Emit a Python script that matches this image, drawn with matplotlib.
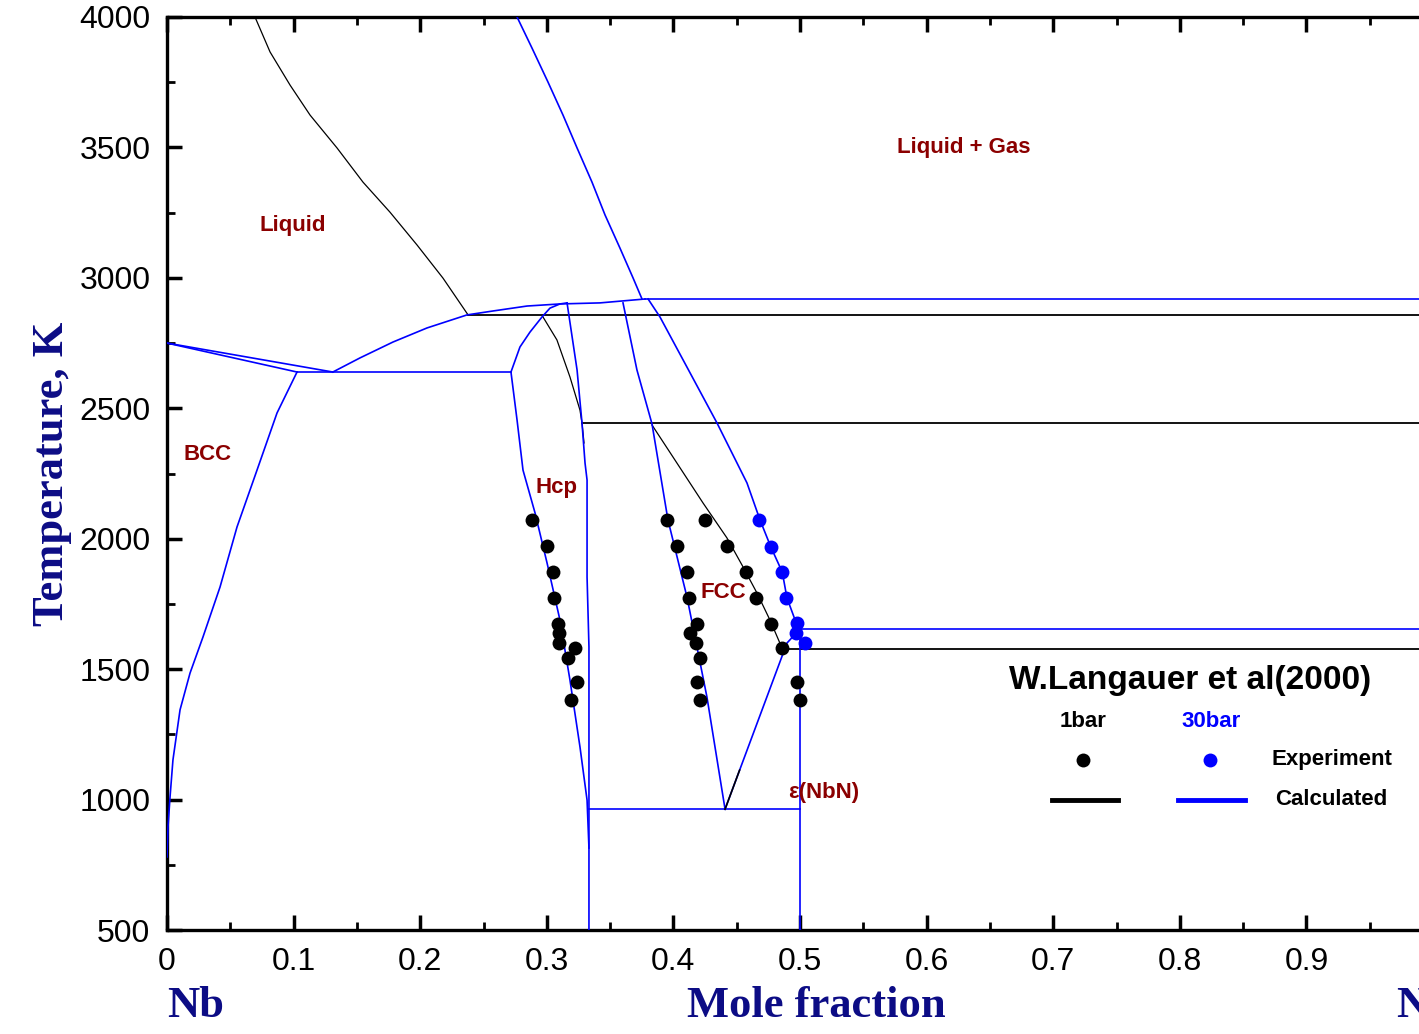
import numpy as np
import matplotlib.pyplot as plt
from matplotlib.ticker import MultipleLocator

# ---- calculated, 1 bar (black) ----
liq_1bar_x = [0.0695, 0.0814, 0.0972, 0.1130, 0.1343, 0.1548, 0.1761, 0.1975, 0.2180, 0.2378]
liq_1bar_T = [4000, 3866, 3739, 3624, 3498, 3367, 3252, 3126, 2999, 2858]
hcp_1bar_x = [0.297, 0.308, 0.3183, 0.3262, 0.3278, 0.3294]
hcp_1bar_T = [2850, 2762, 2620, 2493, 2444, 2367]
fcc_1bar_x = [0.3831, 0.3997, 0.4234, 0.4423, 0.455, 0.466, 0.4763, 0.4858]
fcc_1bar_T = [2436, 2313, 2137, 2003, 1892, 1792, 1688, 1581]
eps_1bar_x = [0.4408, 0.4523]
eps_1bar_T = [963, 1113]
iso_1bar_T = [2858, 2444, 1577]
iso_1bar_x0 = [0.2378, 0.3278, 0.4858]

# ---- calculated, 30 bar (blue) ----
gas_up_x = [0.2765, 0.2883, 0.3009, 0.3128, 0.3239, 0.3357, 0.346, 0.3578, 0.3681, 0.3752]
gas_up_T = [4000, 3881, 3751, 3624, 3498, 3367, 3241, 3114, 3000, 2919]
gas_low_x = [0.380, 0.3894, 0.4107, 0.4344, 0.4581, 0.4684, 0.477, 0.486, 0.4897, 0.4976, 0.5]
gas_low_T = [2919, 2850, 2658, 2444, 2214, 2072, 1968, 1872, 1773, 1669, 1654]
bcc_liq_x = [0.0, 0.131]
bcc_liq_T = [2750, 2639]
bcc_sol_x = [0.0, 0.1027]
bcc_sol_T = [2750, 2639]
bcc_solvus_x = [0.1027, 0.0869, 0.0711, 0.0553, 0.0419, 0.0284, 0.0182, 0.0103, 0.0047, 0.0024, 0.0008, 0.0]
bcc_solvus_T = [2639, 2482, 2263, 2045, 1815, 1623, 1485, 1344, 1152, 1010, 895, 780]
liquidus_x = [0.131, 0.1524, 0.1785, 0.2054, 0.2370, 0.2575, 0.2844, 0.3104, 0.342, 0.3776]
liquidus_T = [2639, 2693, 2754, 2808, 2858, 2873, 2892, 2900, 2904, 2919]
hcp_top_x = [0.2717, 0.2788, 0.2867, 0.2962, 0.3025, 0.3104, 0.316]
hcp_top_T = [2639, 2735, 2792, 2850, 2884, 2900, 2904]
hcp_left_x = [0.2717, 0.2765, 0.2812, 0.2907, 0.3002, 0.3104, 0.3183, 0.3262, 0.3318, 0.3333]
hcp_left_T = [2639, 2455, 2263, 2099, 1907, 1688, 1458, 1202, 998, 814]
hcp_right_x = [0.316, 0.3239, 0.3278, 0.3302, 0.3318, 0.3318, 0.3333, 0.3333]
hcp_right_T = [2904, 2647, 2444, 2290, 2225, 1853, 1585, 500]
fcc_left_x = [0.3602, 0.3712, 0.3831, 0.3957, 0.4107, 0.4265, 0.4408]
fcc_left_T = [2904, 2647, 2440, 2072, 1777, 1393, 963]
fcc_right_x = [0.4408, 0.4897, 0.5]
fcc_right_T = [963, 1600, 1654]
nbn_x = [0.5, 0.5]
nbn_T = [1654, 500]
peritectic_T = 2639
peritectic_x = [0.1027, 0.2717]
eutectoid_T = 963
eutectoid_x = [0.3333, 0.5]
iso_30bar_T = [2919, 1654]
iso_30bar_x0 = [0.3776, 0.5]

# ---- experiment (W.Langauer et al 2000) ----
exp_1bar_x = [0.288, 0.300, 0.305, 0.306, 0.309, 0.310, 0.310, 0.322, 0.317, 0.324, 0.319,
              0.395, 0.403, 0.411, 0.412, 0.419, 0.413, 0.418, 0.421, 0.419, 0.421,
              0.425, 0.442, 0.457, 0.465, 0.477, 0.486,
              0.498, 0.500]
exp_1bar_T = [2073, 1973, 1873, 1773, 1673, 1640, 1600, 1581, 1543, 1451, 1382,
              2073, 1973, 1873, 1773, 1673, 1640, 1600, 1543, 1451, 1382,
              2073, 1973, 1873, 1773, 1673, 1581,
              1451, 1382]
exp_30bar_x = [0.468, 0.477, 0.486, 0.489, 0.498, 0.497, 0.504]
exp_30bar_T = [2073, 1968, 1872, 1773, 1677, 1639, 1600]

x_ticks = [0, 0.1, 0.2, 0.3, 0.4, 0.5, 0.6, 0.7, 0.8, 0.9, 1.0]
x_ticklabels = ['0', '0.1', '0.2', '0.3', '0.4', '0.5', '0.6', '0.7', '0.8', '0.9', '']
y_ticks = [500, 1000, 1500, 2000, 2500, 3000, 3500, 4000]

regions = [('Liquid', 0.0995, 3199), ('Liquid + Gas', 0.6295, 3498), ('BCC', 0.0324, 2321),
           ('Hcp', 0.3073, 2198), ('FCC', 0.4392, 1792), ('ε(NbN)', 0.519, 1029)]

plt.rcParams['font.family'] = ['Liberation Sans', 'DejaVu Sans']

fig = plt.figure(figsize=(14.19, 10.34), dpi=100)
ax = fig.add_axes([167 / 1419, 104 / 1034, 1266 / 1419, 913 / 1034])

blue = '#0000ff'
lw_b = 1.2
lw_k = 0.9

# black (1 bar)
for xs, ts in [(liq_1bar_x, liq_1bar_T), (hcp_1bar_x, hcp_1bar_T), (fcc_1bar_x, fcc_1bar_T)]:
    ax.plot(xs, ts, color='black', lw=lw_k, zorder=2)
ax.plot(eps_1bar_x, eps_1bar_T, color='black', lw=1.2, zorder=4)
for t, x0 in zip(iso_1bar_T, iso_1bar_x0):
    ax.plot([x0, 1.0], [t, t], color='black', lw=1.3, zorder=2)

# blue (30 bar)
for xs, ts in [(gas_up_x, gas_up_T), (gas_low_x, gas_low_T), (bcc_liq_x, bcc_liq_T),
               (bcc_sol_x, bcc_sol_T), (bcc_solvus_x, bcc_solvus_T), (liquidus_x, liquidus_T),
               (hcp_top_x, hcp_top_T), (hcp_left_x, hcp_left_T), (hcp_right_x, hcp_right_T),
               (fcc_left_x, fcc_left_T), (fcc_right_x, fcc_right_T), (nbn_x, nbn_T)]:
    ax.plot(xs, ts, color=blue, lw=lw_b, zorder=3)
ax.plot(peritectic_x, [peritectic_T] * 2, color=blue, lw=lw_b, zorder=3)
ax.plot(eutectoid_x, [eutectoid_T] * 2, color=blue, lw=lw_b, zorder=3)
for t, x0 in zip(iso_30bar_T, iso_30bar_x0):
    ax.plot([x0, 1.0], [t, t], color=blue, lw=lw_b, zorder=3)

# experimental points
ax.plot(exp_1bar_x, exp_1bar_T, 'o', color='black', ms=10, mec='none', zorder=5)
ax.plot(exp_30bar_x, exp_30bar_T, 'o', color=blue, ms=10, mec='none', zorder=5)

# phase labels
for name, x, t in regions:
    ax.text(x, t, name, color='#8b0000', fontsize=16, fontweight='bold',
            ha='center', va='center', zorder=6)

# legend block
tr = ax.transAxes
ax.text(0.808, 0.2738, 'W.Langauer et al(2000)', transform=tr, fontsize=24,
        fontweight='bold', ha='center', va='center')
ax.text(0.7236, 0.2289, '1bar', transform=tr, fontsize=16, fontweight='bold', ha='center', va='center')
ax.text(0.8246, 0.2289, '30bar', transform=tr, fontsize=16, fontweight='bold',
        color=blue, ha='center', va='center')
ax.plot([0.7236], [0.1862], 'o', color='black', ms=10, mec='none', transform=tr)
ax.plot([0.8239], [0.1862], 'o', color=blue, ms=10, mec='none', transform=tr)
ax.text(0.9202, 0.1862, 'Experiment', transform=tr, fontsize=16, fontweight='bold', ha='center', va='center')
ax.plot([0.699, 0.7512], [0.1424, 0.1424], color='black', lw=3.5, transform=tr)
ax.plot([0.7986, 0.8515], [0.1424, 0.1424], color=blue, lw=3.5, transform=tr)
ax.text(0.9194, 0.1424, 'Calculated', transform=tr, fontsize=16, fontweight='bold', ha='center', va='center')

ax.set_xlim(0, 1.0)
ax.set_ylim(500, 4000)
ax.set_xticks(x_ticks)
ax.set_xticklabels(x_ticklabels)
ax.set_yticks(y_ticks)
ax.xaxis.set_minor_locator(MultipleLocator(0.05))
ax.yaxis.set_minor_locator(MultipleLocator(250))
ax.tick_params(which='both', direction='in', top=True, right=False, labelsize=23, pad=12)
ax.tick_params(which='major', length=11, width=2.5)
ax.tick_params(which='minor', length=6, width=2)
for s in ax.spines.values():
    s.set_linewidth(2.4)

navy = '#0c0c85'
serif = ['Liberation Serif', 'DejaVu Serif']
ax.set_ylabel('Temperature, K', fontsize=32, fontweight='bold', color=navy, family=serif)
ax.yaxis.set_label_coords(-0.075, 0.5)
ax.text(0.0, -0.095, 'Nb', transform=tr, fontsize=32, fontweight='bold', color=navy,
        family=serif, ha='left', va='baseline')
ax.text(0.513, -0.095, 'Mole fraction', transform=tr, fontsize=32, fontweight='bold', color=navy,
        family=serif, ha='center', va='baseline')
ax.text(0.971, -0.095, 'N', transform=tr, fontsize=32, fontweight='bold', color=navy,
        family=serif, ha='left', va='baseline')

fig.savefig('out.png', dpi=100)
